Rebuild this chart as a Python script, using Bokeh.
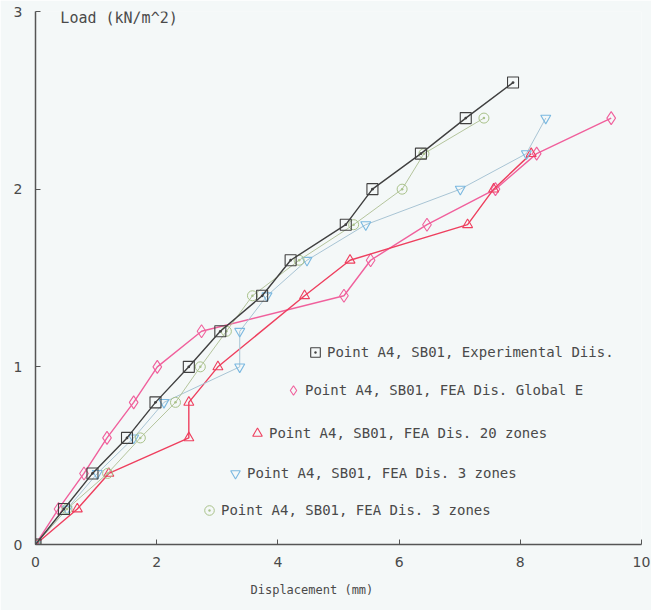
from bokeh.plotting import figure
from bokeh.models import Legend, LegendItem, Label, FixedTicker, Range1d, Title
from bokeh.embed import file_html
from bokeh.resources import INLINE

# ---- data ----
x_ticks = [0, 2, 4, 6, 8, 10]
y_ticks = [0, 1, 2, 3]

load_exp = [0, 0.2, 0.4, 0.6, 0.8, 1.0, 1.2, 1.4, 1.6, 1.8, 2.0, 2.2, 2.4, 2.6]
disp_exp = [0, 0.47, 0.94, 1.51, 1.98, 2.53, 3.05, 3.74, 4.21, 5.12, 5.56, 6.36, 7.10, 7.88]

load_global = [0, 0.2, 0.4, 0.6, 0.8, 1.0, 1.2, 1.4, 1.6, 1.8, 2.0, 2.2, 2.4]
disp_global = [0, 0.38, 0.80, 1.18, 1.62, 2.01, 2.74, 5.09, 5.53, 6.46, 7.59, 8.27, 9.50]

load_20z = [0, 0.2, 0.4, 0.6, 0.8, 1.0, 1.4, 1.6, 1.8, 2.0, 2.2]
disp_20z = [0, 0.69, 1.21, 2.53, 2.53, 3.01, 4.44, 5.19, 7.13, 7.56, 8.18]

load_3z_a = [0, 0.2, 0.4, 0.6, 0.8, 1.0, 1.2, 1.4, 1.6, 1.8, 2.0, 2.2, 2.4]
disp_3z_a = [0, 0.52, 1.02, 1.62, 2.12, 3.37, 3.37, 3.82, 4.48, 5.45, 7.01, 8.10, 8.42]

load_3z_b = [0, 0.2, 0.4, 0.6, 0.8, 1.0, 1.2, 1.4, 1.6, 1.8, 2.0, 2.2, 2.4]
disp_3z_b = [0, 0.52, 1.19, 1.73, 2.31, 2.72, 3.15, 3.58, 4.35, 5.25, 6.05, 6.41, 7.40]

labels = [
    "Point A4, SB01, Experimental Diis.",
    "Point A4, SB01, FEA Dis. Global E",
    "Point A4, SB01, FEA Dis. 20 zones",
    "Point A4, SB01, FEA Dis. 3 zones",
    "Point A4, SB01, FEA Dis. 3 zones",
]

BG = "#f4f8f8"
TXT = "#4a4a4a"
TICK_FONT = "DejaVu Sans"
TEXT_FONT = "DejaVu Sans Mono"

p = figure(width=651, height=610, output_backend="svg", toolbar_location=None,
           x_range=Range1d(0, 10), y_range=Range1d(0, 3),
           min_border_left=35, min_border_right=10, min_border_top=11,
           min_border_bottom=66,
           background_fill_color=BG, border_fill_color=BG)
p.outline_line_color = None
p.grid.visible = False

for ax in (p.xaxis, p.yaxis):
    ax.axis_line_color = "#555555"
    ax.axis_line_width = 1.5
    ax.major_tick_line_color = "#555555"
    ax.major_tick_in = 5
    ax.major_tick_out = 0
    ax.minor_tick_line_color = None
    ax.major_label_text_font = TICK_FONT
    ax.major_label_text_font_size = "14px"
    ax.major_label_text_color = TXT

p.xaxis.ticker = FixedTicker(ticks=x_ticks)
p.yaxis.ticker = FixedTicker(ticks=y_ticks)
p.xaxis.major_label_standoff = 12
p.yaxis.major_label_standoff = 13

# x title sits left of centre in the reference
p.add_layout(Title(text="Displacement (mm)", align="left", offset=215,
                   standoff=23, text_font=TEXT_FONT, text_font_size="12px",
                   text_font_style="normal", text_color=TXT), "below")
p.add_layout(Label(x=0.41, y=2.966, text="Load (kN/m^2)", text_baseline="middle",
                   text_font=TEXT_FONT, text_font_size="15px", text_color=TXT))

# ---- series ----
c_exp = "#404040"
c_glob = "#f0609c"
c_20 = "#ee3f5e"
c_3a = "#7ab8e0"
c_3b = "#a9c28a"

p.line(disp_global, load_global, line_color=c_glob, line_width=1.4)
r_glob = p.scatter(disp_global, load_global, marker="diamond", size=13,
                   line_color=c_glob, fill_color=None, line_width=1.1)

p.line(disp_20z, load_20z, line_color=c_20, line_width=1.4)
r_20 = p.scatter(disp_20z, load_20z, marker="triangle", size=10,
                 line_color=c_20, fill_color=None, line_width=1.1)

p.line(disp_3z_a, load_3z_a, line_color="#a8c4d4", line_width=1.0)
r_3a = p.scatter(disp_3z_a, load_3z_a, marker="inverted_triangle", size=10,
                 line_color=c_3a, fill_color=None, line_width=1.1)

p.line(disp_3z_b, load_3z_b, line_color="#b4c49c", line_width=1.0)
r_3b = p.scatter(disp_3z_b, load_3z_b, marker="circle_dot", size=10,
                 line_color=c_3b, fill_color=None, line_width=1.0)

p.line(disp_exp, load_exp, line_color=c_exp, line_width=1.4)
r_exp = p.scatter(disp_exp, load_exp, marker="square_dot", size=11,
                  line_color=c_exp, fill_color=None, line_width=1.1)

renderers = [r_exp, r_glob, r_20, r_3a, r_3b]
locs = [(268, 180), (246, 142), (210, 99), (188, 59), (162, 22)]
for lab, r, loc in zip(labels, renderers, locs):
    leg = Legend(items=[LegendItem(label=lab, renderers=[r])], location=loc,
                 background_fill_alpha=0, border_line_alpha=0, padding=0,
                 margin=0, glyph_width=24, glyph_height=24, label_height=24,
                 label_standoff=0, label_text_font=TEXT_FONT,
                 label_text_font_size="14px", label_text_color=TXT)
    p.add_layout(leg)

open("out.html", "w").write(file_html(p, INLINE))
